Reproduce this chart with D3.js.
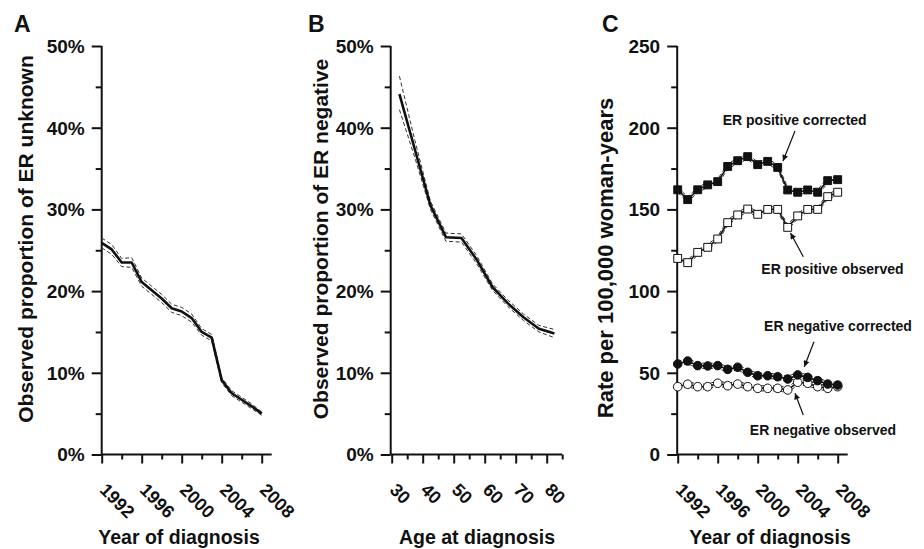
<!DOCTYPE html>
<html><head><meta charset="utf-8">
<script src="https://cdn.jsdelivr.net/npm/d3@7/dist/d3.min.js"></script>
<style>body{margin:0;background:#fff}svg{display:block;font-family:"Liberation Sans",Arial,sans-serif;font-weight:bold}</style>
</head><body><svg id="c" width="924" height="549"></svg>
<script>
// ---- Data ----
const yearsA = [1992,1993,1994,1995,1996,1997,1998,1999,2000,2001,2002,2003,2004,2005,2006,2007,2008];
const unknownPct = [25.9,25.1,23.5,23.5,21.1,20.1,19.1,17.9,17.5,16.7,15.0,14.3,9.1,7.5,6.7,5.9,5.0];
const unknownLo  = [25.3,24.5,23.0,22.9,20.6,19.6,18.6,17.4,17.0,16.2,14.6,13.9,8.8,7.2,6.4,5.6,4.8];
const unknownHi  = [26.5,25.7,24.0,24.1,21.6,20.6,19.6,18.4,18.0,17.2,15.4,14.7,9.4,7.8,7.0,6.2,5.2];

const ages = [32.5,37.5,42.5,47.5,52.5,57.5,62.5,67.5,72.5,77.5,82.5];
const negPct = [44.1,37.3,30.5,26.6,26.5,23.8,20.5,18.5,16.8,15.4,14.8];
const negLo  = [42.2,36.3,30.0,26.1,26.0,23.3,20.1,18.1,16.4,15.0,14.3];
const negHi  = [46.3,38.4,31.0,27.1,27.0,24.3,20.9,18.9,17.2,15.8,15.3];

const yearsC = yearsA;
const posCorrected = [162,156,162,165,167,176.3,179.8,182.3,177.4,179.4,175.7,161.9,160.5,161.9,160.5,167.6,168.2];
const posObserved  = [120,117.4,123.7,126.8,131.9,141.9,146.6,150.2,147,150,150,139,146,150,150,157.8,160.5];
const negCorrected = [55.4,57.2,54.4,54.2,54.4,52.1,53.4,50.3,48.2,48.2,47.6,46.2,48.7,47.2,45.2,43.1,42.5];
const negObserved  = [41.5,43,41.5,41.5,43.6,42.1,43.1,41.5,40.5,40.5,40.5,39.5,44.2,43.6,41.5,40.5,41.5];
const ciHalfC = 1.6;

const yearTicksLabeled = [1992,1996,2000,2004,2008];
const yearTicksAll = [1992,1994,1996,1998,2000,2002,2004,2006,2008];
const ageTicksLabeled = [30,40,50,60,70,80];
const ageTicksAll = [30,35,40,45,50,55,60,65,70,75,80,85];
const pctTicksLabeled = [0,10,20,30,40,50];
const pctTicksAll = [0,5,10,15,20,25,30,35,40,45,50];
const rateTicksLabeled = [0,50,100,150,200,250];
const rateTicksAll = [0,25,50,75,100,125,150,175,200,225,250];

const annotations = [
  {text:"ER positive corrected", tx:2003.7, ty:201.6, x1:2003.73, y1:198.0, x2:2002.53, y2:179.6},
  {text:"ER positive observed",  tx:2007.48, ty:110.5, x1:2004.56, y1:121.0, x2:2003.28, y2:135.6},
  {text:"ER negative corrected", tx:2008.03, ty:75.6, x1:2005.63, y1:69.0, x2:2004.66, y2:53.7},
  {text:"ER negative observed",  tx:2006.53, ty:11.9, x1:2004.56, y1:24.2, x2:2003.73, y2:37.5}
];

// ---- Drawing ----
const svg = d3.select("#c");
svg.append("rect").attr("width",924).attr("height",549).attr("fill","#fff");
const defs = svg.append("defs");
defs.append("marker").attr("id","ah").attr("viewBox","0 0 10 10").attr("refX",10).attr("refY",5)
  .attr("markerWidth",8).attr("markerHeight",6).attr("markerUnits","userSpaceOnUse").attr("orient","auto")
  .append("path").attr("d","M0,0L10,5L0,10Z").attr("fill","#111");

const yTop = 46, yBot = 454.5;

function panel(opts){
  const g = svg.append("g");
  const x = d3.scaleLinear().domain(opts.xdom).range(opts.xrange);
  const y = d3.scaleLinear().domain(opts.ydom).range([yBot, yTop]);
  const ax = opts.xrange[0] - (opts.yAxisOffset||0);
  const yAxis = d3.axisLeft(y).tickValues(opts.yAll).tickSize(6).tickFormat("");
  const yg = g.append("g").attr("transform",`translate(${ax},0)`).call(yAxis);
  yg.selectAll(".tick line").filter(d=>opts.yLab.includes(d)).attr("x2",-10);
  yg.selectAll(".tick line").attr("stroke","#111").attr("stroke-width",2);
  yg.select(".domain").attr("d",`M0,${yTop}V${yBot}`).attr("stroke","#111").attr("stroke-width",2);
  opts.yLab.forEach(v=>{
    g.append("text").attr("x",ax-17).attr("y",y(v)).attr("dy","0.36em").attr("text-anchor","end")
      .attr("font-size",19).attr("fill","#111").text(opts.yFmt(v));
  });
  const xAxis = d3.axisBottom(x).tickValues(opts.xAll).tickSize(5).tickFormat("");
  const xg = g.append("g").attr("transform",`translate(0,${yBot})`).call(xAxis);
  xg.selectAll(".tick line").filter(d=>opts.xLab.includes(d)).attr("y2",9);
  xg.selectAll(".tick line").attr("stroke","#111").attr("stroke-width",2);
  xg.select(".domain").attr("d",`M${ax},0H${opts.xrange[1]}`).attr("stroke","#111").attr("stroke-width",2);
  opts.xLab.forEach(v=>{
    g.append("text").attr("transform",`translate(${x(v)-3},${491}) rotate(45)`)
      .attr("font-size",18).attr("fill","#111").text(v);
  });
  g.append("text").attr("x",opts.xTitleX).attr("y",544).attr("text-anchor","middle")
    .attr("font-size",19.5).attr("fill","#111").text(opts.xTitle);
  g.append("text").attr("transform",`translate(${opts.yTitleX},${opts.yTitleY}) rotate(-90)`)
    .attr("text-anchor","middle").attr("font-size",opts.yTitleSize).attr("fill","#111").text(opts.yTitle);
  g.append("text").attr("x",opts.letterX).attr("y",32).attr("font-size",23).attr("fill","#111").text(opts.letter);
  return {g,x,y};
}

function lineSet(P, xs, mid, lo, hi, w){
  const ln = d3.line().x((d,i)=>P.x(xs[i])).y(d=>P.y(d));
  [lo,hi].forEach(arr=>P.g.append("path").attr("d",ln(arr)).attr("fill","none").attr("stroke","#333")
    .attr("stroke-width",1).attr("stroke-dasharray","4,2.5"));
  P.g.append("path").attr("d",ln(mid)).attr("fill","none").attr("stroke","#111").attr("stroke-width",w)
    .attr("stroke-linejoin","round");
}

// Panel A
const A = panel({xdom:[1992,2009], xrange:[101.7,271.7], ydom:[0,50], yAll:pctTicksAll, yLab:pctTicksLabeled,
  yFmt:v=>v+"%", xAll:yearTicksAll, xLab:yearTicksLabeled, xTitle:"Year of diagnosis", xTitleX:179,
  yTitle:"Observed proportion of ER unknown", yTitleX:33, yTitleY:239, yTitleSize:21, letter:"A", letterX:14});
lineSet(A, yearsA, unknownPct, unknownLo, unknownHi, 2.6);

// Panel B
const B = panel({xdom:[30,85], xrange:[391.7,562.2], ydom:[0,50], yAll:pctTicksAll, yLab:pctTicksLabeled,
  yFmt:v=>v+"%", xAll:ageTicksAll, xLab:ageTicksLabeled, xTitle:"Age at diagnosis", xTitleX:477, yAxisOffset:1,
  yTitle:"Observed proportion of ER negative", yTitleX:328, yTitleY:239, yTitleSize:21, letter:"B", letterX:308});
lineSet(B, ages, negPct, negLo, negHi, 2.6);

// Panel C
const C = panel({xdom:[1992,2009], xrange:[677.7,847.7], ydom:[0,250], yAll:rateTicksAll, yLab:rateTicksLabeled,
  yFmt:v=>v, xAll:yearTicksAll, xLab:yearTicksLabeled, xTitle:"Year of diagnosis", xTitleX:770, yAxisOffset:0.5,
  yTitle:"Rate per 100,000 woman-years", yTitleX:613, yTitleY:258, yTitleSize:22, letter:"C", letterX:602});

function seriesC(vals, shape, filled){
  const lo = vals.map(v=>v-ciHalfC), hi = vals.map(v=>v+ciHalfC);
  lineSet(C, yearsC, vals, lo, hi, 1.6);
  const sym = d3.symbol().type(shape==="square"?d3.symbolSquare:d3.symbolCircle).size(shape==="square"?62:58);
  C.g.append("g").selectAll("path").data(vals).join("path")
    .attr("transform",(d,i)=>`translate(${C.x(yearsC[i])},${C.y(d)})`)
    .attr("d",sym).attr("fill",filled?"#111":"#fff").attr("stroke","#111").attr("stroke-width",1);
}
seriesC(posObserved,"square",false);
seriesC(posCorrected,"square",true);
seriesC(negObserved,"circle",false);
seriesC(negCorrected,"circle",true);

annotations.forEach(a=>{
  C.g.append("text").attr("x",C.x(a.tx)).attr("y",C.y(a.ty)).attr("text-anchor","middle")
    .attr("font-size",14).attr("fill","#111").text(a.text);
  C.g.append("line").attr("x1",C.x(a.x1)).attr("y1",C.y(a.y1)).attr("x2",C.x(a.x2)).attr("y2",C.y(a.y2))
    .attr("stroke","#111").attr("stroke-width",1.2).attr("marker-end","url(#ah)");
});
</script></body></html>
